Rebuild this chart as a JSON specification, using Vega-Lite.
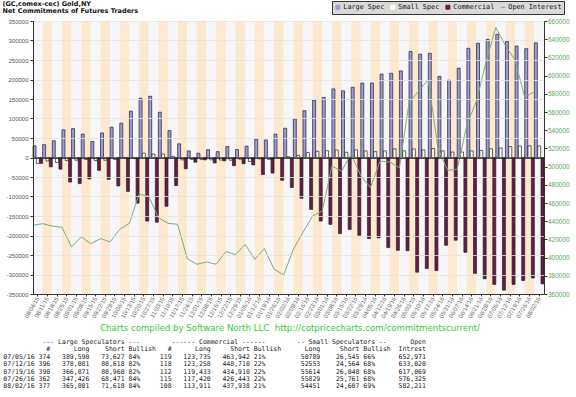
{
  "$schema": "https://vega.github.io/schema/vega-lite/v6.json",
  "width": 511,
  "height": 273,
  "autosize": {"type": "none"},
  "padding": {"left": 33, "top": 21, "right": 32, "bottom": 103},
  "background": "#ffffff",
  "config": {
    "view": {"stroke": null},
    "font": "DejaVu Sans",
    "axis": {"domainColor": "#333333", "tickColor": "#333333", "grid": false}
  },
  "title": {
    "text": [
      "\u200b\u00a0\u00a0\u00a0\u00a0\u00a0\u00a0\u00a0\u00a0\u00a0\u00a0---\u00a0Large\u00a0Speculators\u00a0---\u00a0\u00a0\u00a0\u00a0\u00a0\u00a0\u00a0\u00a0------\u00a0Commercial\u00a0------\u00a0\u00a0\u00a0\u00a0\u00a0\u00a0\u00a0\u00a0--\u00a0Small\u00a0Speculators\u00a0--\u00a0\u00a0\u00a0\u00a0\u00a0\u00a0Open",
      "\u200b\u00a0\u00a0\u00a0\u00a0\u00a0\u00a0\u00a0\u00a0\u00a0\u00a0\u00a0#\u00a0\u00a0\u00a0\u00a0\u00a0\u00a0Long\u00a0\u00a0\u00a0\u00a0Short\u00a0Bullish\u00a0\u00a0\u00a0#\u00a0\u00a0\u00a0\u00a0\u00a0\u00a0Long\u00a0\u00a0\u00a0\u00a0\u00a0Short\u00a0Bullish\u00a0\u00a0\u00a0\u00a0\u00a0\u00a0Long\u00a0\u00a0\u00a0\u00a0\u00a0Short\u00a0Bullish\u00a0\u00a0Intrest",
      "\u200b07/05/16\u00a0374\u00a0\u00a0\u00a0389,590\u00a0\u00a0\u00a073,627\u00a084%\u00a0\u00a0\u00a0\u00a0\u00a0119\u00a0\u00a0\u00a0123,735\u00a0\u00a0\u00a0463,942\u00a021%\u00a0\u00a0\u00a0\u00a0\u00a0\u00a0\u00a0\u00a0\u00a050789\u00a0\u00a0\u00a0\u00a026,545\u00a066%\u00a0\u00a0\u00a0\u00a0\u00a0\u00a0652,971",
      "\u200b07/12/16\u00a0396\u00a0\u00a0\u00a0378,081\u00a0\u00a0\u00a080,618\u00a082%\u00a0\u00a0\u00a0\u00a0\u00a0118\u00a0\u00a0\u00a0123,258\u00a0\u00a0\u00a0448,710\u00a022%\u00a0\u00a0\u00a0\u00a0\u00a0\u00a0\u00a0\u00a0\u00a052553\u00a0\u00a0\u00a0\u00a024,564\u00a068%\u00a0\u00a0\u00a0\u00a0\u00a0\u00a0633,020",
      "\u200b07/19/16\u00a0390\u00a0\u00a0\u00a0366,871\u00a0\u00a0\u00a080,960\u00a082%\u00a0\u00a0\u00a0\u00a0\u00a0112\u00a0\u00a0\u00a0119,433\u00a0\u00a0\u00a0434,910\u00a022%\u00a0\u00a0\u00a0\u00a0\u00a0\u00a0\u00a0\u00a0\u00a055614\u00a0\u00a0\u00a0\u00a026,048\u00a068%\u00a0\u00a0\u00a0\u00a0\u00a0\u00a0617,069",
      "\u200b07/26/16\u00a0362\u00a0\u00a0\u00a0347,426\u00a0\u00a0\u00a068,471\u00a084%\u00a0\u00a0\u00a0\u00a0\u00a0115\u00a0\u00a0\u00a0117,420\u00a0\u00a0\u00a0426,443\u00a022%\u00a0\u00a0\u00a0\u00a0\u00a0\u00a0\u00a0\u00a0\u00a055829\u00a0\u00a0\u00a0\u00a025,761\u00a068%\u00a0\u00a0\u00a0\u00a0\u00a0\u00a0576,325",
      "\u200b08/02/16\u00a0377\u00a0\u00a0\u00a0365,801\u00a0\u00a0\u00a071,618\u00a084%\u00a0\u00a0\u00a0\u00a0\u00a0108\u00a0\u00a0\u00a0113,911\u00a0\u00a0\u00a0437,938\u00a021%\u00a0\u00a0\u00a0\u00a0\u00a0\u00a0\u00a0\u00a0\u00a054451\u00a0\u00a0\u00a0\u00a024,607\u00a069%\u00a0\u00a0\u00a0\u00a0\u00a0\u00a0582,211"
    ],
    "orient": "bottom",
    "anchor": "start",
    "frame": "group",
    "dx": -29.7,
    "offset": 7,
    "font": "DejaVu Sans Mono",
    "fontSize": 6.5,
    "fontWeight": "normal",
    "color": "#222222",
    "lineHeight": 7.4
  },
  "data": {"values": [
    {"date": "08/04/15", "Large Spec": 30000, "Small Spec": -15000, "Commercial": -15000, "Open Interest": 435500},
    {"date": "08/11/15", "Large Spec": 33000, "Small Spec": -9000, "Commercial": -24000, "Open Interest": 437300},
    {"date": "08/18/15", "Large Spec": 43000, "Small Spec": -13000, "Commercial": -30000, "Open Interest": 434700},
    {"date": "08/25/15", "Large Spec": 71000, "Small Spec": -8000, "Commercial": -63000, "Open Interest": 433300},
    {"date": "09/01/15", "Large Spec": 74000, "Small Spec": -7000, "Commercial": -67000, "Open Interest": 411700},
    {"date": "09/08/15", "Large Spec": 60000, "Small Spec": -5000, "Commercial": -55000, "Open Interest": 422700},
    {"date": "09/15/15", "Large Spec": 41000, "Small Spec": -8000, "Commercial": -33000, "Open Interest": 415400},
    {"date": "09/22/15", "Large Spec": 63000, "Small Spec": -7000, "Commercial": -56000, "Open Interest": 420900},
    {"date": "09/29/15", "Large Spec": 78000, "Small Spec": -5000, "Commercial": -73000, "Open Interest": 417200},
    {"date": "10/06/15", "Large Spec": 88000, "Small Spec": -1000, "Commercial": -87000, "Open Interest": 431100},
    {"date": "10/13/15", "Large Spec": 119000, "Small Spec": -2000, "Commercial": -117000, "Open Interest": 437700},
    {"date": "10/20/15", "Large Spec": 152000, "Small Spec": 11000, "Commercial": -163000, "Open Interest": 469500},
    {"date": "10/27/15", "Large Spec": 157000, "Small Spec": 9000, "Commercial": -166000, "Open Interest": 467600},
    {"date": "11/03/15", "Large Spec": 116000, "Small Spec": 9000, "Commercial": -125000, "Open Interest": 443900},
    {"date": "11/10/15", "Large Spec": 69000, "Small Spec": 3000, "Commercial": -72000, "Open Interest": 437700},
    {"date": "11/17/15", "Large Spec": 35000, "Small Spec": -6000, "Commercial": -29000, "Open Interest": 436600},
    {"date": "11/24/15", "Large Spec": 17000, "Small Spec": -5000, "Commercial": -12000, "Open Interest": 398900},
    {"date": "12/01/15", "Large Spec": 11000, "Small Spec": -5000, "Commercial": -6000, "Open Interest": 392700},
    {"date": "12/08/15", "Large Spec": 20000, "Small Spec": -6000, "Commercial": -14000, "Open Interest": 395200},
    {"date": "12/15/15", "Large Spec": 15000, "Small Spec": -6500, "Commercial": -8500, "Open Interest": 392700},
    {"date": "12/22/15", "Large Spec": 28000, "Small Spec": -7000, "Commercial": -21000, "Open Interest": 406600},
    {"date": "12/29/15", "Large Spec": 20500, "Small Spec": -4500, "Commercial": -16000, "Open Interest": 403300},
    {"date": "01/05/16", "Large Spec": 29000, "Small Spec": -10000, "Commercial": -19000, "Open Interest": 414600},
    {"date": "01/12/16", "Large Spec": 47000, "Small Spec": -3500, "Commercial": -43500, "Open Interest": 398200},
    {"date": "01/19/16", "Large Spec": 45000, "Small Spec": -5000, "Commercial": -40000, "Open Interest": 409900},
    {"date": "01/26/16", "Large Spec": 60000, "Small Spec": -1500, "Commercial": -58500, "Open Interest": 387200},
    {"date": "02/02/16", "Large Spec": 75000, "Small Spec": 2000, "Commercial": -77000, "Open Interest": 381000},
    {"date": "02/09/16", "Large Spec": 99000, "Small Spec": 5500, "Commercial": -104500, "Open Interest": 409100},
    {"date": "02/16/16", "Large Spec": 120000, "Small Spec": 13000, "Commercial": -133000, "Open Interest": 427800},
    {"date": "02/23/16", "Large Spec": 147000, "Small Spec": 16000, "Commercial": -163000, "Open Interest": 445700},
    {"date": "03/01/16", "Large Spec": 154000, "Small Spec": 17500, "Commercial": -171500, "Open Interest": 451200},
    {"date": "03/08/16", "Large Spec": 176000, "Small Spec": 19000, "Commercial": -195000, "Open Interest": 500500},
    {"date": "03/15/16", "Large Spec": 171000, "Small Spec": 13500, "Commercial": -184500, "Open Interest": 495000},
    {"date": "03/22/16", "Large Spec": 180000, "Small Spec": 19500, "Commercial": -199500, "Open Interest": 514000},
    {"date": "03/29/16", "Large Spec": 191000, "Small Spec": 17000, "Commercial": -208000, "Open Interest": 490000},
    {"date": "04/05/16", "Large Spec": 191000, "Small Spec": 15000, "Commercial": -206000, "Open Interest": 477000},
    {"date": "04/12/16", "Large Spec": 214000, "Small Spec": 17000, "Commercial": -231000, "Open Interest": 506000},
    {"date": "04/19/16", "Large Spec": 216000, "Small Spec": 22000, "Commercial": -238000, "Open Interest": 505000},
    {"date": "04/26/16", "Large Spec": 222000, "Small Spec": 17000, "Commercial": -239000, "Open Interest": 498800},
    {"date": "05/03/16", "Large Spec": 272000, "Small Spec": 22000, "Commercial": -294000, "Open Interest": 570000},
    {"date": "05/10/16", "Large Spec": 265000, "Small Spec": 19500, "Commercial": -284500, "Open Interest": 583000},
    {"date": "05/17/16", "Large Spec": 267000, "Small Spec": 23000, "Commercial": -290000, "Open Interest": 595600},
    {"date": "05/24/16", "Large Spec": 208000, "Small Spec": 17000, "Commercial": -225000, "Open Interest": 520000},
    {"date": "05/31/16", "Large Spec": 198000, "Small Spec": 14000, "Commercial": -212000, "Open Interest": 496000},
    {"date": "06/07/16", "Large Spec": 229000, "Small Spec": 14000, "Commercial": -243000, "Open Interest": 497000},
    {"date": "06/14/16", "Large Spec": 280000, "Small Spec": 17000, "Commercial": -297000, "Open Interest": 546000},
    {"date": "06/21/16", "Large Spec": 293000, "Small Spec": 18000, "Commercial": -311000, "Open Interest": 572000},
    {"date": "06/28/16", "Large Spec": 303000, "Small Spec": 22500, "Commercial": -325500, "Open Interest": 615700},
    {"date": "07/05/16", "Large Spec": 315963, "Small Spec": 24244, "Commercial": -340207, "Open Interest": 652971},
    {"date": "07/12/16", "Large Spec": 297463, "Small Spec": 27989, "Commercial": -325452, "Open Interest": 633020},
    {"date": "07/19/16", "Large Spec": 285911, "Small Spec": 29566, "Commercial": -315477, "Open Interest": 617069},
    {"date": "07/26/16", "Large Spec": 278955, "Small Spec": 30068, "Commercial": -309023, "Open Interest": 576325},
    {"date": "08/02/16", "Large Spec": 294183, "Small Spec": 29844, "Commercial": -324027, "Open Interest": 582211}
  ]},
  "encoding": {
    "x": {
      "field": "date", "type": "ordinal", "sort": null,
      "scale": {"paddingInner": 0, "paddingOuter": 0},
      "axis": {
        "title": "Charts compiled by Software North LLC\u00a0\u00a0http://cotpricecharts.com/commitmentscurrent/",
        "titleFont": "DejaVu Sans", "titleFontSize": 8.6, "titleFontWeight": "normal", "titleColor": "#33cc33",
        "titleX": 256.5, "titleY": 33.5, "titleAlign": "center", "titleBaseline": "middle", "titleAngle": 0,
        "labelAngle": -60, "labelAlign": "right", "labelBaseline": "middle",
        "labelFont": "Liberation Sans", "labelFontSize": 6, "labelColor": "#666666",
        "labelPadding": 1, "tickSize": 2, "labelOverlap": false, "zindex": 1
      }
    }
  },
  "layer": [
    {
      "transform": [{"window": [{"op": "row_number", "as": "idx"}]}],
      "mark": {"type": "rect", "strokeWidth": 0},
      "encoding": {
        "fill": {"condition": {"test": "datum.idx % 2 === 0", "value": "#fde9cf"}, "value": "#f7f7fb"}
      }
    },
    {
      "transform": [{"fold": ["Large Spec", "Small Spec", "Commercial"], "as": ["series", "value"]}],
      "mark": {"type": "bar", "stroke": "#222222", "strokeWidth": 0.7},
      "encoding": {
        "xOffset": {"field": "series", "type": "nominal", "sort": ["Large Spec", "Small Spec", "Commercial"], "scale": {"paddingInner": 0.1, "paddingOuter": 0}},
        "y": {
          "field": "value", "type": "quantitative",
          "scale": {"domain": [-350000, 350000], "nice": false},
          "axis": {
            "orient": "left",
            "values": [-350000, -300000, -250000, -200000, -150000, -100000, -50000, 0, 50000, 100000, 150000, 200000, 250000, 300000, 350000],
            "labelExpr": "(datum.value < 0 ? '-' : '') + format(abs(datum.value), 'd')",
            "labelFont": "Liberation Sans", "labelFontSize": 6, "labelColor": "#555555",
            "tickSize": 3, "labelPadding": 2,
            "grid": true,
            "gridColor": {"condition": {"test": "datum.value === 0", "value": "#222222"}, "value": "#e2e2e2"},
            "gridWidth": 0.8,
            "zindex": 1,
            "title": ["(GC,comex-cec) Gold,NY", "Net Commitments of Futures Traders"],
            "titleAngle": 0, "titleAlign": "left", "titleBaseline": "top",
            "titleX": -31, "titleY": -20.5,
            "titleFont": "DejaVu Sans", "titleFontSize": 6.5, "titleFontWeight": "bold",
            "titleColor": "#111111", "titleLineHeight": 7
          }
        },
        "color": {
          "field": "series", "type": "nominal",
          "scale": {"domain": ["Large Spec", "Small Spec", "Commercial", "Open Interest"], "range": ["#9c9cdc", "#fffff0", "#6a1a4a", "#77b077"]},
          "legend": {
            "orient": "none", "legendX": 299, "legendY": -20, "direction": "horizontal", "title": null,
            "fillColor": "#d9d9d9", "strokeColor": "#333333", "padding": 2.5,
            "labelFont": "DejaVu Sans Mono", "labelFontSize": 6.8, "labelColor": "#111111",
            "symbolSize": 16, "symbolType": "square", "symbolStrokeWidth": 0.8, "symbolStrokeColor": "#222222",
            "labelOffset": 2, "columnPadding": 4,
            "encode": {
              "symbols": {
                "update": {
                  "shape": {"signal": "datum.value === 'Open Interest' ? 'stroke' : 'square'"},
                  "stroke": {"signal": "datum.value === 'Open Interest' ? '#77b077' : '#222222'"},
                  "strokeWidth": {"value": 1}
                }
              }
            }
          }
        }
      }
    },
    {
      "mark": {"type": "line", "strokeWidth": 1},
      "encoding": {
        "x": {"field": "date", "type": "ordinal", "sort": null, "bandPosition": 0},
        "y": {
          "field": "Open Interest", "type": "quantitative",
          "scale": {"domain": [360000, 660000], "nice": false, "zero": false},
          "axis": {
            "orient": "right",
            "values": [360000, 380000, 400000, 420000, 440000, 460000, 480000, 500000, 520000, 540000, 560000, 580000, 600000, 620000, 640000, 660000],
            "format": "d",
            "labelFont": "Liberation Sans", "labelFontSize": 6.5, "labelColor": "#55aa55",
            "tickSize": 3, "labelPadding": 0.5, "grid": false, "title": null, "zindex": 1
          }
        },
        "color": {"datum": "Open Interest"}
      }
    }
  ],
  "resolve": {"scale": {"y": "independent"}}
}
